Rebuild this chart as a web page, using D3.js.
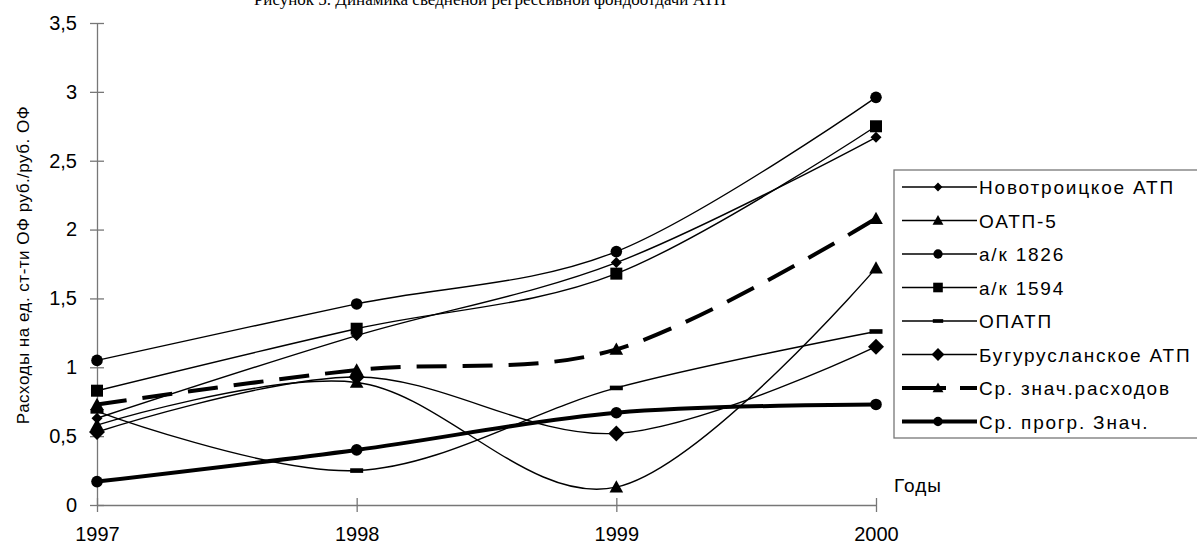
<!DOCTYPE html>
<html>
<head>
<meta charset="utf-8">
<script src="https://cdn.jsdelivr.net/npm/d3@7"></script>
<style>
body { margin: 0; background: #fff; }
svg { display: block; font-family: "Liberation Sans", Arial, sans-serif; }
</style>
</head>
<body>
<div id="chart"></div>
<script>
const years = ['1997', '1998', '1999', '2000'];
const yTicks = [0, 0.5, 1, 1.5, 2, 2.5, 3, 3.5];

const novotroitskoe = [0.63, 1.23, 1.76, 2.67];
const oatp5 = [0.58, 0.89, 0.13, 1.72];
const ak1826 = [1.05, 1.46, 1.84, 2.96];
const ak1594 = [0.83, 1.28, 1.68, 2.75];
const opatp = [0.68, 0.25, 0.85, 1.26];
const buguruslan = [0.53, 0.93, 0.52, 1.15];
const avgCost = [0.73, 0.98, 1.13, 2.08];
const avgForecast = [0.17, 0.40, 0.67, 0.73];

const seriesNames = ['Новотроицкое АТП', 'ОАТП-5', 'а/к 1826', 'а/к 1594', 'ОПАТП',
  'Бугурусланское АТП', 'Ср. знач.расходов', 'Ср. прогр. Знач.'];
const seriesValues = [novotroitskoe, oatp5, ak1826, ak1594, opatp, buguruslan, avgCost, avgForecast];
const seriesMarker = ['smallDiamond', 'triangle', 'circle', 'square', 'dash', 'bigDiamond', 'triangle', 'circle'];
const seriesWidth = [1.4, 1.4, 1.4, 1.4, 1.4, 1.4, 4, 4];
const seriesDash = [null, null, null, null, null, null, '30,16', null];

const W = 1197, H = 545;
const svg = d3.select('#chart').append('svg').attr('width', W).attr('height', H);

const x = d3.scalePoint().domain(years).range([97, 876]);
const y = d3.scaleLinear().domain([0, 3.5]).range([505, 23]);

// title (partly cut off at the top, as in the source)
svg.append('text')
  .attr('x', 490).attr('y', 5)
  .attr('text-anchor', 'middle')
  .style('font-family', '"Liberation Serif", "Times New Roman", serif')
  .style('font-size', '17px')
  .text('Рисунок 5. Динамика сведненой регрессивной фондоотдачи АТП');

// axes
const axisColor = '#777';
const yAxis = svg.append('g').attr('transform', 'translate(97,0)')
  .call(d3.axisLeft(y).tickValues(yTicks).tickSizeInner(7).tickSizeOuter(0).tickPadding(13)
    .tickFormat(d => String(d).replace('.', ',')));
yAxis.selectAll('.tick line').attr('x1', 7);
const xAxis = svg.append('g').attr('transform', 'translate(0,505)')
  .call(d3.axisBottom(x).tickSizeInner(7).tickSizeOuter(0).tickPadding(15));
xAxis.selectAll('.tick line').attr('y1', -7);
[yAxis, xAxis].forEach(g => {
  g.select('.domain').attr('stroke', axisColor).attr('stroke-width', 1.3);
  g.selectAll('.tick line').attr('stroke', axisColor).attr('stroke-width', 1.3);
  g.selectAll('.tick text').attr('fill', '#000').style('font-size', '20px')
    .style('font-family', '"Liberation Sans", Arial, sans-serif');
});

svg.append('text')
  .attr('transform', 'translate(29,265) rotate(-90)')
  .attr('text-anchor', 'middle')
  .style('font-size', '17px')
  .style('letter-spacing', '0.5px')
  .text('Расходы на ед. ст-ти ОФ руб./руб. ОФ');

svg.append('text').attr('x', 894).attr('y', 492)
  .style('font-size', '19px').style('letter-spacing', '1px').text('Годы');

function drawMarker(g, type, cx, cy, scale) {
  const s = scale || 1;
  if (type === 'circle') {
    g.append('circle').attr('cx', cx).attr('cy', cy).attr('r', 5.8 * s).attr('fill', '#000');
  } else if (type === 'square') {
    g.append('rect').attr('x', cx - 6 * s).attr('y', cy - 6 * s)
      .attr('width', 12 * s).attr('height', 12 * s).attr('fill', '#000');
  } else if (type === 'triangle') {
    const r = 6.8 * s;
    g.append('path').attr('d', `M${cx},${cy - r}L${cx + r},${cy + r * 0.8}L${cx - r},${cy + r * 0.8}Z`).attr('fill', '#000');
  } else if (type === 'smallDiamond') {
    const r = 5.5 * s;
    g.append('path').attr('d', `M${cx},${cy - r}L${cx + r},${cy}L${cx},${cy + r}L${cx - r},${cy}Z`).attr('fill', '#000');
  } else if (type === 'bigDiamond') {
    const r = 8 * s;
    g.append('path').attr('d', `M${cx},${cy - r}L${cx + r},${cy}L${cx},${cy + r}L${cx - r},${cy}Z`).attr('fill', '#000');
  } else if (type === 'dash') {
    g.append('rect').attr('x', cx - 6.5 * s).attr('y', cy - 2.3 * s)
      .attr('width', 13 * s).attr('height', 4.6 * s).attr('fill', '#000');
  }
}

const line = d3.line()
  .x((d, i) => x(years[i]))
  .y(d => y(d))
  .curve(d3.curveCatmullRom.alpha(0));

const plot = svg.append('g');
seriesValues.forEach((vals, k) => {
  plot.append('path')
    .attr('d', line(vals))
    .attr('fill', 'none')
    .attr('stroke', '#000')
    .attr('stroke-width', seriesWidth[k])
    .attr('stroke-dasharray', seriesDash[k]);
  const mg = plot.append('g');
  vals.forEach((v, i) => drawMarker(mg, seriesMarker[k], x(years[i]), y(v)));
});

// legend
const legend = svg.append('g');
legend.append('rect')
  .attr('x', 894).attr('y', 170).attr('width', 320).attr('height', 268)
  .attr('fill', '#fff').attr('stroke', axisColor).attr('stroke-width', 1.3);
seriesNames.forEach((name, k) => {
  const ly = 187 + k * 33.5;
  legend.append('line')
    .attr('x1', 902).attr('x2', 977).attr('y1', ly).attr('y2', ly)
    .attr('stroke', '#000').attr('stroke-width', seriesWidth[k])
    .attr('stroke-dasharray', seriesDash[k] ? '44,14' : null);
  drawMarker(legend, seriesMarker[k], 938, ly, 0.8);
  legend.append('text').attr('x', 979).attr('y', ly + 7)
    .style('font-size', '19px').style('letter-spacing', '1.8px').text(name);
});
</script>
</body>
</html>
